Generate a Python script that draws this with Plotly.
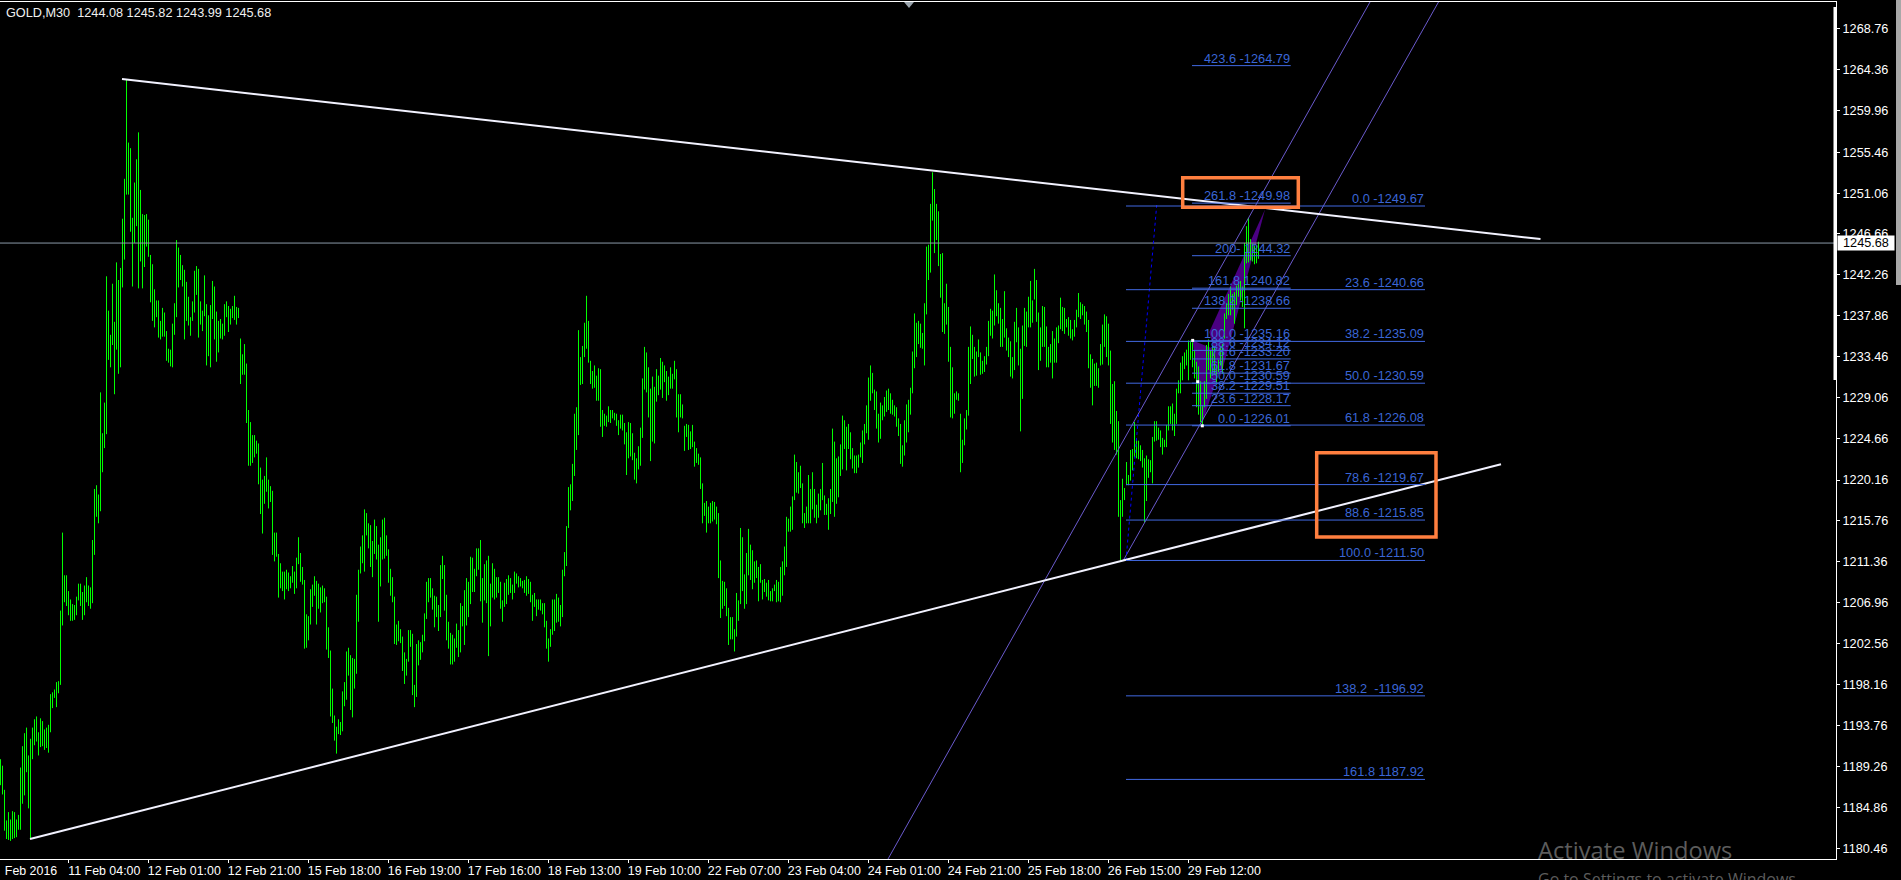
import plotly.graph_objects as go

# --- Bar data (M30 highs and lows) ---
highs_a = [1190.1,1189.4,1186.8,1183.5,1184.4,1183.6,1184.5,1184.4,1183.6,1184.1,1189.2,1191.5,1192.9,1193.5,1190.5,1192.3,1193.5,1194.4,1194.7,1193.0,1194.5,1194.2,1193.3,1193.5,1193.8,1197.1,1197.3,1197.6,1198.4,1198.5,1206.1,1214.5,1209.9,1209.9,1208.2,1207.3,1206.8,1206.7,1207.6,1209.0,1209.0,1208.1,1208.8,1209.7,1208.8,1208.6,1213.7,1219.2,1219.6,1218.6,1229.6,1225.2,1228.5,1242.1,1238.4,1235.8,1241.3,1237.2,1243.6,1241.7,1243.0,1248.3,1252.6,1263.3,1256.5,1255.9,1248.4,1252.2,1254.7,1257.6,1251.4,1248.8,1248.7,1248.8,1248.2,1244.4,1243.4,1240.7,1239.5,1239.5,1237.3,1238.7,1238.2,1236.2,1234.3,1234.2,1237.0,1239.2,1246.0,1245.2,1244.4,1243.3,1242.8,1241.5,1239.9,1237.7,1239.4,1242.7,1243.2,1242.9,1239.4,1238.4,1242.2,1239.1,1237.9]
lows_a = [1187.3,1186.3,1182.4,1181.5,1181.4,1181.3,1181.5,1181.6,1181.7,1182.5,1182.5,1185.3,1186.2,1188.7,1184.8,1181.5,1190.1,1191.6,1192.0,1190.5,1191.4,1191.5,1191.1,1191.3,1190.8,1193.0,1195.6,1196.7,1195.7,1197.2,1198.1,1204.5,1207.0,1206.6,1205.6,1205.0,1205.0,1205.1,1205.6,1207.2,1206.6,1205.1,1205.6,1207.0,1206.6,1206.3,1206.9,1212.1,1216.2,1215.5,1216.8,1221.0,1223.6,1225.1,1233.1,1232.3,1234.7,1229.4,1234.2,1231.6,1232.3,1240.9,1243.9,1250.9,1250.9,1246.9,1241.0,1245.7,1247.5,1240.8,1243.7,1240.8,1243.1,1245.3,1244.2,1239.3,1237.3,1236.6,1237.7,1235.5,1235.3,1235.6,1235.6,1233.0,1232.8,1232.4,1232.3,1235.8,1237.7,1240.9,1241.7,1241.0,1235.3,1237.3,1236.8,1235.7,1237.3,1238.2,1240.1,1235.5,1236.9,1236.2,1237.8,1232.5,1233.5]

highs_b = [1239.0,1241.6,1241.0,1238.3,1237.3,1237.5,1237.0,1239.1,1239.4,1238.9,1238.6,1238.9,1240.0,1238.8,1238.7,1235.4,1233.7,1234.8,1232.7,1227.7,1226.4,1225.0,1225.0,1224.4,1224.1,1221.5,1220.2,1220.6,1222.6,1220.2,1219.5,1219.0,1214.5,1214.5,1212.2,1211.2,1210.3,1210.3,1210.5,1210.2,1209.8,1210.9,1210.3,1211.8,1214.0,1212.3,1210.8,1209.4,1205.7,1205.5,1208.4,1208.9,1209.8,1209.3,1209.0,1208.6,1208.8,1208.5,1207.6,1204.3,1201.8,1197.7,1194.8,1193.6,1194.4,1194.1,1197.4,1198.4,1201.7,1202.1,1201.3,1201.0,1200.9,1207.8,1210.5,1213.0,1214.2,1217.0,1216.6,1215.5,1215.3,1213.6,1215.9,1215.2,1213.2,1214.0,1215.9,1216.1,1214.2,1212.7,1210.6,1209.7,1207.6,1204.6,1205.0,1204.1,1203.3,1201.6,1200.9,1204.0,1204.0,1203.6,1198.1,1202.5,1202.9]
lows_b = [1232.3,1237.5,1235.3,1232.9,1233.9,1235.4,1235.3,1235.7,1237.7,1236.1,1236.9,1237.6,1237.4,1236.9,1237.6,1230.5,1231.5,1231.5,1226.3,1221.7,1221.7,1222.0,1222.6,1223.0,1219.7,1216.5,1214.4,1217.6,1218.9,1217.1,1217.8,1212.1,1211.4,1211.9,1207.5,1208.5,1208.2,1207.3,1208.4,1208.2,1208.5,1209.1,1207.9,1208.5,1211.1,1209.2,1208.9,1202.0,1202.1,1202.9,1204.6,1206.5,1207.7,1204.6,1206.3,1205.9,1206.9,1207.0,1201.9,1201.0,1194.7,1194.0,1192.1,1190.7,1192.8,1192.7,1193.1,1195.8,1196.5,1199.1,1195.4,1194.6,1197.7,1199.3,1204.9,1210.1,1211.2,1210.3,1214.2,1212.8,1210.8,1209.7,1212.2,1211.6,1204.9,1208.7,1211.6,1211.7,1212.0,1209.1,1207.7,1207.0,1202.5,1202.4,1202.8,1202.6,1199.6,1198.2,1199.1,1200.6,1202.2,1197.0,1195.7,1196.8,1200.2]

highs_c = [1202.7,1203.5,1205.8,1209.2,1209.6,1209.6,1208.5,1207.7,1207.6,1206.7,1211.0,1212.0,1211.0,1207.8,1204.9,1203.7,1203.5,1203.1,1204.7,1204.0,1206.9,1206.6,1208.3,1209.6,1209.2,1211.9,1211.8,1210.6,1212.8,1212.8,1213.7,1209.6,1211.1,1211.5,1212.0,1209.0,1211.2,1210.6,1209.7,1209.7,1209.2,1207.2,1209.1,1209.5,1209.9,1209.6,1208.9,1210.3,1210.1,1209.8,1209.6,1209.3,1209.4,1209.8,1209.5,1209.2,1207.8,1208.0,1207.3,1207.3,1207.3,1206.9,1206.9,1205.0,1203.1,1204.1,1207.3,1207.3,1207.9,1207.5,1206.7,1210.5,1212.4,1215.2,1219.4,1219.7,1221.9,1227.3,1228.0,1236.3,1233.4,1234.6,1237.1,1240.0,1237.3,1233.0,1231.9,1232.5,1231.4,1232.2,1232.1,1227.7,1227.3,1227.1,1228.1,1227.7,1227.7,1227.4,1227.3,1226.6,1227.2,1227.2,1226.3,1225.3,1226.4]
lows_c = [1200.8,1201.6,1202.8,1205.2,1207.0,1207.5,1206.2,1204.3,1205.4,1203.9,1205.4,1209.5,1206.1,1202.9,1202.0,1200.3,1200.3,1200.6,1202.1,1201.1,1201.6,1204.4,1202.4,1204.5,1205.4,1206.8,1208.1,1208.1,1209.8,1210.5,1207.1,1204.8,1207.2,1206.9,1201.2,1204.4,1207.5,1207.3,1207.5,1208.0,1206.3,1204.9,1206.5,1206.8,1207.8,1208.0,1207.3,1208.0,1209.0,1208.6,1208.7,1208.5,1208.0,1207.7,1207.9,1207.0,1205.0,1206.5,1205.5,1206.2,1206.1,1205.7,1204.3,1202.0,1200.6,1202.2,1203.5,1203.9,1204.8,1204.9,1204.4,1205.4,1209.8,1210.9,1215.0,1216.9,1217.9,1220.6,1223.4,1225.0,1230.4,1230.5,1233.4,1234.3,1232.8,1230.5,1230.0,1230.1,1228.7,1228.7,1225.9,1224.8,1226.0,1225.9,1226.4,1226.3,1226.8,1226.6,1226.0,1225.0,1225.7,1225.5,1224.0,1220.7,1222.5]

highs_d = [1226.3,1225.2,1223.1,1222.5,1223.8,1225.8,1231.1,1234.5,1233.9,1232.3,1230.0,1231.3,1230.2,1232.1,1231.4,1233.3,1232.9,1232.5,1231.9,1231.3,1232.3,1231.6,1233.0,1232.1,1229.4,1229.4,1228.3,1226.0,1226.2,1226.1,1225.4,1226.1,1224.3,1223.6,1223.0,1222.6,1219.8,1217.7,1217.9,1217.3,1217.7,1217.9,1217.8,1217.3,1216.6,1211.5,1209.3,1209.2,1208.5,1206.4,1205.4,1205.4,1204.1,1208.0,1207.2,1215.0,1214.0,1210.0,1212.3,1214.9,1213.2,1212.6,1211.4,1211.5,1210.8,1211.1,1209.4,1209.5,1209.1,1209.4,1208.2,1208.5,1208.9,1209.4,1209.2,1210.8,1211.4,1213.0,1216.2,1216.0,1217.3,1218.4,1222.9,1222.1,1221.0,1221.7,1219.8,1216.6,1217.3,1220.7,1219.2,1221.0,1219.2,1217.5,1218.7,1219.2,1222.0,1218.5,1217.6,1218.2,1219.2,1225.7,1224.3,1222.5,1222.7]
lows_d = [1222.7,1222.3,1220.2,1219.8,1221.3,1221.7,1224.7,1229.9,1229.6,1226.9,1222.2,1224.3,1224.1,1228.6,1229.3,1229.9,1229.0,1230.7,1228.7,1229.3,1230.0,1230.0,1231.0,1226.9,1225.3,1226.9,1226.8,1223.3,1224.8,1223.4,1223.5,1223.7,1221.6,1222.0,1221.8,1219.2,1215.5,1216.3,1214.5,1215.5,1215.5,1215.7,1215.9,1215.4,1209.6,1205.3,1206.3,1206.6,1205.5,1202.4,1203.0,1203.0,1201.7,1203.3,1205.0,1206.8,1208.2,1206.3,1206.8,1209.9,1209.4,1208.4,1209.1,1209.6,1207.1,1209.1,1207.3,1208.1,1207.6,1207.2,1207.1,1207.1,1208.2,1207.0,1207.1,1207.0,1207.7,1209.9,1210.8,1214.6,1214.6,1214.8,1218.0,1218.8,1218.7,1219.3,1215.5,1215.0,1215.5,1215.5,1215.5,1217.0,1216.1,1215.5,1216.1,1216.9,1218.0,1216.4,1216.4,1214.8,1216.5,1217.8,1216.2,1217.6,1218.3]

highs_e = [1224.0,1227.1,1226.6,1225.9,1226.2,1225.3,1223.6,1222.8,1222.8,1222.9,1224.2,1225.5,1226.2,1228.2,1231.2,1232.5,1231.7,1229.9,1229.7,1227.3,1228.5,1228.2,1229.1,1229.8,1230.0,1229.5,1228.8,1228.2,1228.0,1226.8,1226.2,1223.9,1226.6,1228.3,1228.8,1230.1,1234.0,1238.1,1237.1,1237.3,1237.0,1236.0,1239.2,1245.3,1245.5,1249.9,1253.3,1251.5,1249.9,1249.1,1244.5,1244.6,1239.2,1241.3,1238.8,1234.5,1232.3,1229.5,1229.7,1229.5,1227.3,1224.5,1226.8,1227.7,1234.5,1236.7,1235.8,1234.5,1234.0,1235.3,1233.9,1233.0,1233.5,1234.5,1237.3,1238.6,1238.4,1242.3,1240.6,1239.2,1238.7,1237.5,1240.5,1236.5,1235.5,1235.1,1233.4,1237.2,1238.7,1236.6,1234.3,1236.8,1238.7,1238.3,1239.9,1241.6,1239.5,1242.9,1241.7,1238.2,1236.6,1238.9,1238.8,1236.7,1234.5]
lows_e = [1220.6,1221.3,1223.5,1221.2,1223.5,1222.4,1221.4,1220.9,1220.9,1221.5,1222.6,1222.0,1224.0,1225.2,1224.5,1228.7,1229.5,1227.7,1225.7,1224.2,1224.6,1226.6,1227.0,1227.5,1227.7,1227.3,1227.2,1227.0,1225.9,1224.9,1221.9,1221.6,1222.8,1224.2,1225.3,1227.2,1229.5,1232.2,1233.4,1234.8,1234.4,1234.3,1232.5,1238.0,1241.7,1242.5,1248.1,1244.6,1246.0,1243.2,1239.8,1236.1,1235.9,1236.9,1232.9,1226.9,1226.8,1227.3,1228.8,1228.7,1221.0,1222.0,1223.9,1225.6,1227.1,1230.5,1233.2,1231.3,1231.4,1233.4,1231.5,1231.6,1231.8,1232.6,1233.5,1235.7,1235.4,1236.8,1237.8,1237.0,1234.5,1234.5,1235.5,1234.1,1233.4,1231.3,1231.1,1232.0,1235.0,1232.5,1225.4,1228.9,1234.6,1234.5,1236.6,1236.6,1237.1,1239.6,1237.2,1232.0,1233.0,1234.5,1234.5,1232.3,1232.3]

highs_f = [1234.8,1236.2,1235.4,1236.6,1236.8,1239.8,1238.8,1238.7,1237.5,1237.7,1237.4,1236.4,1237.4,1238.5,1240.3,1239.3,1239.1,1238.9,1238.3,1237.4,1233.7,1233.2,1232.7,1232.8,1232.2,1234.8,1236.9,1238.0,1237.8,1237.0,1234.1,1230.5,1230.8,1227.6,1226.5,1218.0,1220.3,1219.3,1222.1,1220.7,1223.4,1223.5,1226.4,1224.6,1224.4,1223.9,1223.4,1222.5,1222.8,1222.4,1222.3,1224.8,1226.5,1226.5,1225.8,1225.5,1224.7,1224.5,1226.1,1228.1,1228.1,1228.4,1227.3,1230.0,1230.9,1232.8,1233.5,1233.9,1234.2,1235.2,1235.2,1235.0,1234.1,1232.9,1232.4,1230.8,1228.2,1230.8,1234.7,1235.3,1234.1,1234.7,1234.5,1232.4,1233.1,1234.5,1234.8,1238.1,1239.2,1240.2,1241.0,1240.2,1240.4,1241.1,1241.5,1241.6,1241.0,1245.7,1247.5,1248.4,1246.1,1245.6,1245.4,1245.4,1245.82]
lows_f = [1232.8,1231.1,1232.8,1232.8,1234.9,1236.4,1236.2,1235.9,1236.6,1235.7,1235.4,1235.2,1235.6,1236.6,1237.7,1237.5,1237.9,1236.9,1236.1,1232.2,1230.1,1228.2,1230.3,1230.3,1230.1,1232.5,1232.6,1234.5,1233.4,1232.5,1226.2,1224.2,1223.4,1222.9,1216.2,1211.5,1216.2,1218.0,1219.6,1219.6,1220.1,1221.2,1222.6,1222.5,1222.4,1222.2,1221.5,1215.6,1217.9,1220.4,1221.0,1219.8,1224.3,1224.4,1224.5,1223.7,1222.9,1223.7,1223.7,1225.5,1226.2,1225.5,1224.9,1226.2,1229.5,1229.5,1230.9,1232.1,1232.5,1230.9,1233.1,1232.3,1231.1,1228.0,1227.2,1226.4,1226.1,1228.0,1228.9,1232.0,1231.1,1231.4,1231.6,1230.7,1231.8,1232.5,1231.6,1235.4,1237.5,1237.9,1237.9,1238.5,1237.0,1239.0,1239.9,1239.5,1238.8,1236.5,1243.5,1243.6,1243.8,1243.7,1243.4,1243.5,1243.99]

highs = highs_a + highs_b + highs_c + highs_d + highs_e + highs_f
lows = lows_a + lows_b + lows_c + lows_d + lows_e + lows_f

# --- Axis labels ---
price_ticks = [1180.46,1184.86,1189.26,1193.76,1198.16,1202.56,1206.96,1211.36,1215.76,1220.16,1224.66,1229.06,1233.46,1237.86,1242.26,1246.66,1251.06,1255.46,1259.96,1264.36,1268.76]
time_labels = ["11 Feb 04:00","12 Feb 01:00","12 Feb 21:00","15 Feb 18:00","16 Feb 19:00","17 Feb 16:00","18 Feb 13:00","19 Feb 10:00","22 Feb 07:00","23 Feb 04:00","24 Feb 01:00","24 Feb 21:00","25 Feb 18:00","26 Feb 15:00","29 Feb 12:00"]
time_ticks = [33.9 + 40 * k for k in range(len(time_labels))]

# --- Drawn objects, in (bar index, price) ---
upper_trend_x, upper_trend_y = [60.75, 770], [1263.34, 1246.11]
lower_trend_x, lower_trend_y = [14.75, 750.25], [1181.5, 1221.86]
channel_a_x, channel_a_y = [443.75, 684.75], [1179.35, 1271.64]
channel_b_x, channel_b_y = [561.5, 719], [1211.55, 1271.64]
dotted_x, dotted_y = [562.75, 578.1], [1211.5, 1249.77]
last_price = 1245.68

fib_right_span = [562.75, 712.25]
fib_right_levels = [1249.67,1240.66,1235.09,1230.59,1226.08,1219.67,1215.85,1211.50,1196.92,1187.92]
fib_right_text = ["0.0 -1249.67","23.6 -1240.66","38.2 -1235.09","50.0 -1230.59","61.8 -1226.08","78.6 -1219.67","88.6 -1215.85","100.0 -1211.50","138.2  -1196.92","161.8 1187.92"]

fib_left_span = [595.75, 645.1]
fib_left_levels = [1264.79,1249.98,1244.32,1240.82,1238.66,1235.16,1234.12,1233.20,1231.67,1230.59,1229.51,1228.17,1226.01]
fib_left_text = ["423.6 -1264.79","261.8 -1249.98","200- 1244.32","161.8 1240.82","138.2 -1238.66","100.0 -1235.16","88.6 -1234.12","78.6 -1233.20","61.8 -1231.67","50.0 -1230.59","38.2 -1229.51","23.6 -1228.17","0.0 -1226.01"]

harmonic_1_x, harmonic_1_y = [596.1, 600.6, 612.25, 596.1], [1235.2, 1226.1, 1233.8, 1235.2]
harmonic_2_x, harmonic_2_y = [632.25, 604.4, 610.1, 632.25], [1249.3, 1236.1, 1231.3, 1249.3]
anchor_x, anchor_y = [596.1, 598.6, 600.9], [1235.2, 1230.75, 1226.0]

box_1 = (591.1, 648.9, 1249.53, 1252.71)
box_2 = (658.1, 717.75, 1214.02, 1223.1)

WHITE = "#ffffff"
GREEN = "#00ff00"
FIB = "#4169e1"
FIB_TEXT = "#3a66d6"
CHANNEL = "#6a5acd"
FONT = "Liberation Sans"


def segments(xs0, ys0, xs1, ys1):
    xs, ys = [], []
    for a, b, c, d in zip(xs0, ys0, xs1, ys1):
        xs += [a, c, None]
        ys += [b, d, None]
    return xs, ys


fig = go.Figure()
for hx, hy in ((harmonic_1_x, harmonic_1_y), (harmonic_2_x, harmonic_2_y)):
    fig.add_trace(go.Scatter(x=hx, y=hy, mode="lines", fill="toself", fillcolor="#4b0082",
                             line=dict(color="#4b0082", width=0)))

idx = list(range(len(highs)))
bx, by = segments(idx, highs, idx, lows)
fig.add_trace(go.Scatter(x=bx, y=by, mode="lines", line=dict(color=GREEN, width=1)))

fig.add_trace(go.Scatter(x=[-0.25, 917.75], y=[last_price, last_price], mode="lines",
                         line=dict(color="#8a9aa8", width=1)))

for xs, ys, color, w, dash in (
    (channel_a_x, channel_a_y, CHANNEL, 1, "solid"),
    (channel_b_x, channel_b_y, CHANNEL, 1, "solid"),
    (dotted_x, dotted_y, "#0000ff", 1, "dot"),
    (upper_trend_x, upper_trend_y, "#f2f2ff", 2, "solid"),
    (lower_trend_x, lower_trend_y, "#f2f2ff", 2, "solid"),
):
    fig.add_trace(go.Scatter(x=xs, y=ys, mode="lines", line=dict(color=color, width=w, dash=dash)))

for span, levels in ((fib_right_span, fib_right_levels), (fib_left_span, fib_left_levels)):
    fx, fy = segments([span[0]] * len(levels), levels, [span[1]] * len(levels), levels)
    fig.add_trace(go.Scatter(x=fx, y=fy, mode="lines", line=dict(color=FIB, width=1)))

fig.add_trace(go.Scatter(x=anchor_x, y=anchor_y, mode="markers",
                         marker=dict(symbol="square", size=3, color=WHITE)))

annotations = []
for span, levels, labels in ((fib_right_span, fib_right_levels, fib_right_text),
                             (fib_left_span, fib_left_levels, fib_left_text)):
    for lvl, txt in zip(levels, labels):
        annotations.append(dict(x=span[1], y=lvl, xref="x", yref="y", text=txt, showarrow=False,
                                xanchor="right", yanchor="bottom", borderpad=0, yshift=-1,
                                font=dict(family=FONT, size=12.8, color=FIB_TEXT)))

# header, watermark, last-price tag
annotations.append(dict(x=0, y=1, xref="paper", yref="paper", xshift=5, yshift=-3, showarrow=False,
                        xanchor="left", yanchor="top", borderpad=0,
                        text="GOLD,M30  1244.08 1245.82 1243.99 1245.68",
                        font=dict(family=FONT, size=12.7, color="#f0f0f0")))
annotations.append(dict(x=1, y=last_price, xref="paper", yref="y", xshift=1, showarrow=False,
                        xanchor="left", yanchor="middle", width=56, height=14, align="center",
                        bgcolor=WHITE, borderpad=0, text="1245.68",
                        font=dict(family=FONT, size=12.7, color="#000000")))
annotations.append(dict(x=1537 / 1836, y=0, xref="paper", yref="paper", yshift=-8, showarrow=False,
                        xanchor="left", yanchor="bottom", borderpad=0, text="Activate Windows",
                        font=dict(family="Open Sans", size=23.7, color="#5c5c5c")))
annotations.append(dict(x=1537 / 1836, y=0, xref="paper", yref="paper", yshift=-20, showarrow=False,
                        xanchor="left", yanchor="middle", borderpad=0,
                        text="Go to Settings to activate Windows.",
                        font=dict(family="Open Sans", size=16, color="#5c5c5c")))

shapes = []
for x0, x1, y0, y1 in (box_1, box_2):
    shapes.append(dict(type="rect", xref="x", yref="y", x0=x0, x1=x1, y0=y0, y1=y1,
                       line=dict(color="#ff7f3f", width=3.5), fillcolor="rgba(0,0,0,0)"))
# thick scale edge, chart-shift marker, window strip on the far right
shapes.append(dict(type="line", xref="paper", yref="paper", x0=0.99945, x1=0.99945,
                   y0=(859 - 380) / 857, y1=(859 - 7) / 857, line=dict(color=WHITE, width=3)))
shapes.append(dict(type="path", xref="paper", yref="paper", line=dict(width=0), fillcolor="#9aa4ad",
                   path="M 0.4924 1.0 L 0.4978 1.0 L 0.4951 0.993 Z"))
shapes.append(dict(type="rect", xref="paper", yref="paper", x0=1896 / 1836, x1=1901 / 1836,
                   y0=(859 - 285) / 857, y1=(859 + 21) / 857, line=dict(width=0), fillcolor="#dbe6f3"))
shapes.append(dict(type="rect", xref="paper", yref="paper", x0=1896 / 1836, x1=1901 / 1836,
                   y0=(859 - 285) / 857, y1=1.003, line=dict(width=0), fillcolor="#a8a8a8"))

fig.update_layout(
    width=1901, height=880, autosize=False,
    margin=dict(l=0, r=65, t=2, b=21, pad=0, autoexpand=False),
    paper_bgcolor="#000000", plot_bgcolor="#000000",
    showlegend=False, hovermode=False,
    annotations=annotations, shapes=shapes,
    xaxis=dict(
        range=[-0.25, 917.75], showgrid=False, zeroline=False,
        showline=True, linecolor=WHITE, linewidth=1, mirror=True,
        tickmode="array",
        tickvals=[15.25] + [t + 18 for t in time_ticks],
        ticktext=["Feb 2016"] + time_labels,
        ticks="", tickangle=0,
        tickfont=dict(family=FONT, size=12.4, color=WHITE),
        minor=dict(tickmode="array", tickvals=time_ticks, ticks="outside", ticklen=3,
                   tickcolor=WHITE, tickwidth=1, showgrid=False),
    ),
    yaxis=dict(
        range=[1179.35, 1271.64], side="right", showgrid=False, zeroline=False,
        showline=True, linecolor=WHITE, linewidth=1,
        tickmode="array", tickvals=price_ticks,
        ticktext=[f"{v:.2f}" for v in price_ticks],
        ticks="outside", ticklen=3, tickcolor=WHITE, tickwidth=1,
        tickfont=dict(family=FONT, size=12.7, color=WHITE),
    ),
)

print(len(highs), len(lows))
fig.write_html("out.html", config={"displayModeBar": False},
               post_script="document.body.style.margin='0';document.body.style.overflow='hidden';"
                           "document.documentElement.style.overflow='hidden';")
